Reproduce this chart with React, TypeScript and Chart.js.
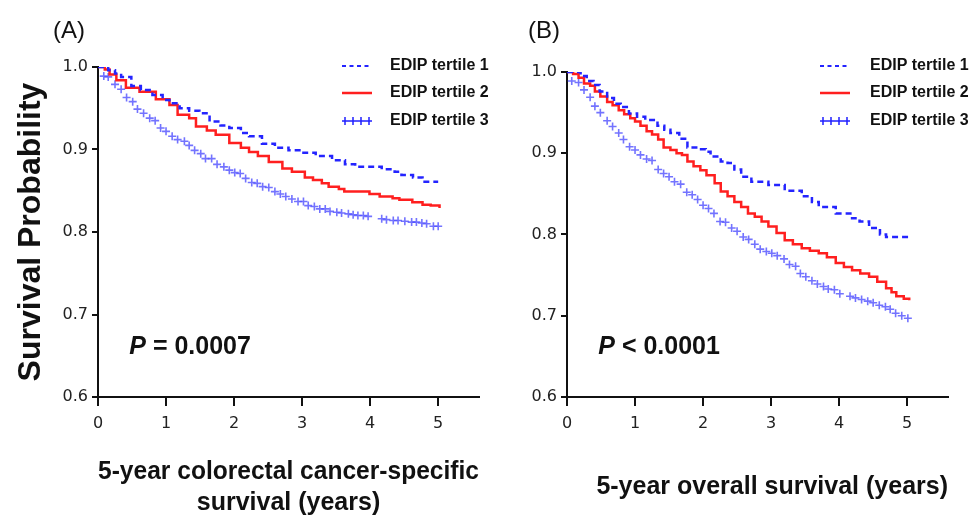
import { useEffect, useRef } from 'react';
import { Chart, registerables } from 'chart.js';

Chart.register(...registerables);

// ---------- data ----------
const LEGEND_LABELS = ['EDIP tertile 1', 'EDIP tertile 2', 'EDIP tertile 3'];
const X_TICKS = [0, 1, 2, 3, 4, 5];
const Y_TICKS = [0.6, 0.7, 0.8, 0.9, 1.0];

// Panel A: colorectal cancer-specific survival
const A_T1_TIME = [0, 0.15, 0.25, 0.34, 0.49, 0.63, 0.8, 0.95, 1.05, 1.2, 1.34, 1.49, 1.64, 1.8, 1.93, 2.1, 2.22, 2.41, 2.6, 2.8, 3.0, 3.2, 3.44, 3.63, 3.78, 4.17, 4.36, 4.46, 4.63, 4.77, 5.0];
const A_T1_SURV = [1.0, 0.996, 0.992, 0.988, 0.977, 0.972, 0.966, 0.96, 0.956, 0.95, 0.947, 0.944, 0.934, 0.929, 0.926, 0.92, 0.916, 0.907, 0.902, 0.899, 0.896, 0.892, 0.887, 0.882, 0.879, 0.876, 0.873, 0.869, 0.866, 0.861, 0.861];

const A_T2_TIME = [0, 0.1, 0.17, 0.27, 0.41, 0.61, 0.85, 1.05, 1.17, 1.34, 1.44, 1.6, 1.73, 1.93, 2.1, 2.22, 2.35, 2.51, 2.71, 2.85, 3.04, 3.16, 3.29, 3.39, 3.54, 3.62, 3.99, 4.14, 4.33, 4.43, 4.62, 4.77, 4.89, 5.02];
const A_T2_SURV = [1.0, 0.997, 0.991, 0.984, 0.975, 0.97, 0.961, 0.954, 0.942, 0.938, 0.928, 0.923, 0.918, 0.908, 0.902, 0.897, 0.892, 0.885, 0.877, 0.873, 0.866, 0.863, 0.859, 0.855, 0.852, 0.849, 0.846, 0.843, 0.841, 0.839, 0.836, 0.833, 0.832, 0.829];

const A_T3_TIME = [0.085, 0.15, 0.25, 0.34, 0.42, 0.51, 0.58, 0.67, 0.76, 0.84, 0.92, 1.0, 1.09, 1.17, 1.27, 1.34, 1.42, 1.51, 1.58, 1.67, 1.75, 1.85, 1.93, 2.01, 2.09, 2.17, 2.26, 2.34, 2.42, 2.51, 2.6, 2.68, 2.76, 2.85, 2.94, 3.02, 3.09, 3.18, 3.26, 3.34, 3.41, 3.51, 3.58, 3.68, 3.75, 3.82, 3.9, 3.97, 4.17, 4.24, 4.34, 4.41, 4.51, 4.61, 4.68, 4.76, 4.83, 4.93, 5.0];
const A_T3_SURV = [0.989, 0.988, 0.979, 0.973, 0.963, 0.958, 0.949, 0.944, 0.938, 0.935, 0.926, 0.922, 0.916, 0.912, 0.91, 0.905, 0.899, 0.895, 0.889, 0.889, 0.882, 0.879, 0.875, 0.872, 0.871, 0.865, 0.86, 0.859, 0.855, 0.854, 0.849, 0.846, 0.843, 0.84, 0.837, 0.837, 0.832, 0.831, 0.828, 0.828, 0.825, 0.824, 0.823, 0.822, 0.821, 0.82, 0.82, 0.819, 0.816, 0.815, 0.814, 0.814, 0.813, 0.812, 0.812, 0.811, 0.81, 0.807, 0.807];

// Panel B: overall survival
const B_T1_TIME = [0, 0.2, 0.29, 0.39, 0.48, 0.59, 0.69, 0.79, 0.91, 1.03, 1.15, 1.33, 1.43, 1.52, 1.65, 1.77, 1.92, 2.04, 2.11, 2.26, 2.36, 2.46, 2.56, 2.71, 2.96, 3.2, 3.45, 3.6, 3.7, 3.95, 4.19, 4.3, 4.44, 4.6, 4.69, 5.02];
const B_T1_SURV = [1.0, 0.995, 0.989, 0.984, 0.976, 0.968, 0.961, 0.957, 0.949, 0.945, 0.941, 0.934, 0.929, 0.925, 0.918, 0.907, 0.905, 0.902, 0.896, 0.89, 0.888, 0.88, 0.871, 0.865, 0.861, 0.854, 0.847, 0.84, 0.834, 0.826, 0.82, 0.816, 0.808, 0.8, 0.797, 0.793];

const B_T2_TIME = [0, 0.09, 0.17, 0.25, 0.34, 0.41, 0.49, 0.59, 0.67, 0.76, 0.84, 0.93, 1.0, 1.08, 1.17, 1.25, 1.34, 1.42, 1.52, 1.61, 1.69, 1.77, 1.86, 1.96, 2.05, 2.17, 2.26, 2.36, 2.46, 2.56, 2.66, 2.76, 2.86, 2.96, 3.08, 3.2, 3.32, 3.45, 3.57, 3.7, 3.82, 3.95, 4.07, 4.19, 4.31, 4.44, 4.56, 4.69, 4.77, 4.84, 4.95, 5.03];
const B_T2_SURV = [1.0, 0.9975, 0.993, 0.986, 0.983, 0.976, 0.97, 0.963, 0.959, 0.953, 0.948, 0.943, 0.939, 0.934, 0.927, 0.923, 0.917, 0.907, 0.904, 0.9, 0.898, 0.89, 0.884, 0.879, 0.873, 0.863, 0.853, 0.847, 0.84, 0.834, 0.826, 0.822, 0.816, 0.81, 0.802, 0.793, 0.788, 0.783, 0.78, 0.777, 0.772, 0.765, 0.76, 0.756, 0.752, 0.748, 0.742, 0.734, 0.729, 0.724, 0.721, 0.719];

const B_T3_TIME = [0.07, 0.17, 0.25, 0.34, 0.41, 0.49, 0.59, 0.67, 0.76, 0.83, 0.92, 1.0, 1.08, 1.17, 1.25, 1.34, 1.42, 1.5, 1.58, 1.67, 1.76, 1.84, 1.92, 2.0, 2.08, 2.16, 2.25, 2.33, 2.42, 2.5, 2.59, 2.67, 2.76, 2.84, 2.93, 3.01, 3.09, 3.19, 3.27, 3.36, 3.43, 3.51, 3.6, 3.68, 3.77, 3.84, 3.93, 4.01, 4.16, 4.24, 4.33, 4.42, 4.5, 4.59, 4.68, 4.75, 4.83, 4.92, 5.01];
const B_T3_SURV = [0.989, 0.987, 0.978, 0.969, 0.958, 0.95, 0.94, 0.933, 0.925, 0.917, 0.908, 0.904, 0.898, 0.893, 0.891, 0.88, 0.875, 0.871, 0.865, 0.862, 0.852, 0.849, 0.843, 0.836, 0.832, 0.826, 0.816, 0.815, 0.808, 0.804, 0.797, 0.794, 0.788, 0.782, 0.779, 0.777, 0.774, 0.77, 0.763, 0.761, 0.752, 0.748, 0.743, 0.739, 0.736, 0.733, 0.732, 0.727, 0.724, 0.722, 0.72, 0.718, 0.716, 0.713, 0.711, 0.708, 0.703, 0.7, 0.697];

const A_P_TEXT = ['P', ' = 0.0007'];
const B_P_TEXT = ['P', ' < 0.0001'];
const A_X_TITLE = ['5-year colorectal cancer-specific', 'survival (years)'];
const B_X_TITLE = '5-year overall survival (years)';
const Y_TITLE = 'Survival Probability';

// ---------- styles ----------
const T1_COLOR = '#2424ff';
const T2_COLOR = '#ff1f1f';
const T3_COLOR = 'rgba(80,80,255,0.8)';
const AXIS_COLOR = '#111';
const SANS = '"Liberation Sans", Arial, Helvetica, sans-serif';
const TICK_FONT = { family: '"DejaVu Sans", Verdana, sans-serif', size: 16 };

function zip(t: number[], s: number[]) {
  return t.map((x, i) => ({ x, y: s[i] }));
}

const decorPlugin = {
  id: 'decor',
  afterDraw(chart: any, _args: any, opts: any) {
    const ctx = chart.ctx as CanvasRenderingContext2D;
    ctx.save();
    ctx.textBaseline = 'middle';
    ctx.textAlign = 'left';
    ctx.fillStyle = '#111';
    // panel letter
    ctx.font = `24px ${SANS}`;
    ctx.fillText(opts.panel, opts.panelX, opts.panelY);
    // P value
    const px = chart.scales.x.getPixelForValue(opts.pAt[0]);
    const py = chart.scales.y.getPixelForValue(opts.pAt[1]);
    ctx.font = `italic bold 25px ${SANS}`;
    ctx.fillText(opts.pText[0], px, py);
    const w = ctx.measureText(opts.pText[0]).width;
    ctx.font = `bold 25px ${SANS}`;
    ctx.fillText(opts.pText[1], px + w, py);
    // legend
    const sx = opts.legendX;
    const tx = opts.legendTextX;
    const rows = opts.legendRows;
    chart.data.datasets.forEach((ds: any, i: number) => {
      const y = rows[i];
      ctx.save();
      if (i === 0) {
        ctx.strokeStyle = T1_COLOR;
        ctx.lineWidth = 1.8;
        ctx.setLineDash([4, 3.5]);
        ctx.beginPath();
        ctx.moveTo(sx, y);
        ctx.lineTo(sx + 30, y);
        ctx.stroke();
      } else if (i === 1) {
        ctx.strokeStyle = T2_COLOR;
        ctx.lineWidth = 2.5;
        ctx.beginPath();
        ctx.moveTo(sx, y);
        ctx.lineTo(sx + 30, y);
        ctx.stroke();
      } else {
        ctx.strokeStyle = '#2020ff';
        ctx.lineWidth = 1.5;
        ctx.beginPath();
        ctx.moveTo(sx, y);
        ctx.lineTo(sx + 30, y);
        for (let k = 0; k < 4; k++) {
          const cx = sx + 3 + k * 8;
          ctx.moveTo(cx, y - 4);
          ctx.lineTo(cx, y + 4);
        }
        ctx.stroke();
      }
      ctx.restore();
      ctx.font = `bold 16px ${SANS}`;
      ctx.fillStyle = '#111';
      ctx.fillText(ds.label, tx, y);
    });
    ctx.restore();
  },
};

interface PanelSpec {
  t1: number[]; s1: number[];
  t2: number[]; s2: number[];
  t3: number[]; s3: number[];
  top: number; padRight: number; yWidth: number;
  yTitle: boolean;
  xTitle: string | string[]; xTitleAlign: 'center' | 'end'; xTitlePad: number;
  decor: any;
}

function buildConfig(p: PanelSpec): any {
  return {
    type: 'line',
    data: {
      datasets: [
        { label: LEGEND_LABELS[0], data: zip(p.t1, p.s1), borderColor: T1_COLOR, borderWidth: 2.5, borderDash: [6, 4], stepped: true, pointRadius: 0, fill: false },
        { label: LEGEND_LABELS[1], data: zip(p.t2, p.s2), borderColor: T2_COLOR, borderWidth: 2.5, stepped: true, pointRadius: 0, fill: false },
        { label: LEGEND_LABELS[2], data: zip(p.t3, p.s3), showLine: false, pointStyle: 'cross', pointRadius: 4, pointBorderWidth: 1.6, pointBorderColor: T3_COLOR, pointBackgroundColor: T3_COLOR, borderColor: T3_COLOR },
      ],
    },
    options: {
      responsive: false,
      animation: false,
      devicePixelRatio: 1,
      layout: { padding: { top: p.top, right: p.padRight, left: 0, bottom: 0 } },
      plugins: {
        legend: { display: false },
        tooltip: { enabled: false },
        decor: p.decor,
      },
      scales: {
        x: {
          type: 'linear',
          min: 0,
          max: 5.6,
          afterBuildTicks: (s: any) => { s.ticks = X_TICKS.map((v) => ({ value: v })); },
          afterFit: (s: any) => { s.height = 118; },
          ticks: { font: TICK_FONT, color: '#222', padding: 8, callback: (v: any) => String(v) },
          grid: { drawOnChartArea: false, drawTicks: true, tickLength: 9, color: AXIS_COLOR, lineWidth: 2 },
          border: { display: true, color: AXIS_COLOR, width: 2 },
          title: {
            display: true,
            text: p.xTitle,
            align: p.xTitleAlign,
            color: '#111',
            font: { family: SANS, size: 25, weight: 'bold', lineHeight: 1.24 },
            padding: { top: 0, bottom: p.xTitlePad },
          },
        },
        y: {
          type: 'linear',
          min: 0.6,
          max: 1.0,
          afterBuildTicks: (s: any) => { s.ticks = Y_TICKS.map((v) => ({ value: v })); },
          afterFit: (s: any) => { s.width = p.yWidth; },
          ticks: { font: TICK_FONT, color: '#222', padding: 4, callback: (v: any) => Number(v).toFixed(1) },
          grid: { drawOnChartArea: false, drawTicks: true, tickLength: 6, color: AXIS_COLOR, lineWidth: 2 },
          border: { display: true, color: AXIS_COLOR, width: 2 },
          title: {
            display: p.yTitle,
            text: Y_TITLE,
            color: '#111',
            font: { family: SANS, size: 32, weight: 'bold', lineHeight: 1.2 },
            padding: { top: 12, bottom: 0 },
          },
        },
      },
    },
    plugins: [decorPlugin],
  };
}

export default function App() {
  const refA = useRef<HTMLCanvasElement>(null);
  const refB = useRef<HTMLCanvasElement>(null);

  useEffect(() => {
    const a = new Chart(refA.current as HTMLCanvasElement, buildConfig({
      t1: A_T1_TIME, s1: A_T1_SURV, t2: A_T2_TIME, s2: A_T2_SURV, t3: A_T3_TIME, s3: A_T3_SURV,
      top: 67, padRight: 11, yWidth: 98, yTitle: true,
      xTitle: A_X_TITLE, xTitleAlign: 'center', xTitlePad: -3.5,
      decor: { panel: '(A)', panelX: 53, panelY: 31, pText: A_P_TEXT, pAt: [0.46, 0.661], legendX: 342, legendTextX: 390, legendRows: [66, 93, 121] },
    }));
    const b = new Chart(refB.current as HTMLCanvasElement, buildConfig({
      t1: B_T1_TIME, s1: B_T1_SURV, t2: B_T2_TIME, s2: B_T2_SURV, t3: B_T3_TIME, s3: B_T3_SURV,
      top: 72, padRight: 24, yWidth: 81, yTitle: false,
      xTitle: B_X_TITLE, xTitleAlign: 'end', xTitlePad: 12.5,
      decor: { panel: '(B)', panelX: 42, panelY: 31, pText: B_P_TEXT, pAt: [0.46, 0.662], legendX: 334, legendTextX: 384, legendRows: [66, 93, 121] },
    }));
    return () => { a.destroy(); b.destroy(); };
  }, []);

  return (
    <div style={{ position: 'absolute', left: 0, top: 0, width: 972, height: 515, background: '#fff', overflow: 'hidden' }}>
      <canvas ref={refA} width={490} height={515} style={{ position: 'absolute', left: 0, top: 0, width: 490, height: 515 }} />
      <canvas ref={refB} width={486} height={515} style={{ position: 'absolute', left: 486, top: 0, width: 486, height: 515 }} />
    </div>
  );
}
